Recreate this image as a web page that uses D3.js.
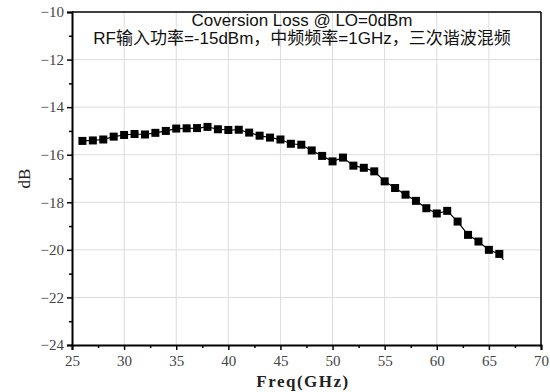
<!DOCTYPE html>
<html>
<head>
<meta charset="utf-8">
<script src="https://cdn.jsdelivr.net/npm/d3@7"></script>
<style>
  body { margin: 0; background: #fff; }
</style>
</head>
<body>
<div id="chart"></div>
<script>
// Data
const freqs = [26, 27, 28, 29, 30, 31, 32, 33, 34, 35, 36, 37, 38, 39, 40, 41, 42, 43, 44, 45,
  46, 47, 48, 49, 50, 51, 52, 53, 54, 55, 56, 57, 58, 59, 60, 61, 62, 63, 64, 65, 66];
const lossDb = [-15.42, -15.40, -15.36, -15.24, -15.17, -15.13, -15.15, -15.08, -15.00, -14.90,
  -14.89, -14.88, -14.83, -14.93, -14.96, -14.95, -15.07, -15.20, -15.28, -15.36,
  -15.54, -15.58, -15.82, -16.05, -16.28, -16.12, -16.46, -16.55, -16.70, -17.12,
  -17.40, -17.68, -17.94, -18.25, -18.47, -18.36, -18.81, -19.37, -19.65, -20.00, -20.17];
// thin trace continues a little past the last marker
const tailFreqs = [66, 66.4];
const tailDb = [-20.17, -20.42];

const xTicks = [25, 30, 35, 40, 45, 50, 55, 60, 65, 70];
const yTicks = [-10, -12, -14, -16, -18, -20, -22, -24];
const titleLines = ["Coversion Loss @ LO=0dBm", "RF输入功率=-15dBm，中频频率=1GHz，三次谐波混频"];

const width = 550, height = 392;
const margin = { top: 12, right: 9, bottom: 47, left: 72 };

const svg = d3.select("#chart").append("svg")
  .attr("width", width)
  .attr("height", height)
  .style("font-family", "'Liberation Serif', serif");

const x = d3.scaleLinear().domain([25, 70]).range([margin.left, width - margin.right]);
const y = d3.scaleLinear().domain([-24, -10]).range([height - margin.bottom, margin.top]);

// grid
svg.append("g")
  .selectAll("line.vg")
  .data(xTicks.slice(1, -1))
  .enter().append("line")
  .attr("x1", d => x(d)).attr("x2", d => x(d))
  .attr("y1", y(-10)).attr("y2", y(-24))
  .attr("stroke", "#dcdcdc").attr("stroke-width", 1);
svg.append("g")
  .selectAll("line.hg")
  .data(yTicks.slice(1, -1))
  .enter().append("line")
  .attr("x1", x(25)).attr("x2", x(70))
  .attr("y1", d => y(d)).attr("y2", d => y(d))
  .attr("stroke", "#dcdcdc").attr("stroke-width", 1);

// axes
const xAxis = svg.append("g")
  .attr("transform", "translate(0," + y(-24) + ")")
  .call(d3.axisBottom(x).tickValues(xTicks).tickSize(5).tickPadding(5).tickFormat(d3.format("d")));
const yAxis = svg.append("g")
  .attr("transform", "translate(" + x(25) + ",0)")
  .call(d3.axisLeft(y).tickValues(yTicks).tickSize(5).tickPadding(3).tickFormat(d => "\u2212" + Math.abs(d)));

// minor ticks
svg.append("g").attr("transform", "translate(0," + y(-24) + ")")
  .call(d3.axisBottom(x).tickValues(d3.range(27.5, 70, 5)).tickSize(3).tickFormat(""))
  .select(".domain").remove();
svg.append("g").attr("transform", "translate(" + x(25) + ",0)")
  .call(d3.axisLeft(y).tickValues(d3.range(-23, -10, 2)).tickSize(3).tickFormat(""))
  .select(".domain").remove();

svg.selectAll(".tick line").attr("stroke", "#000").attr("stroke-width", 1.5);
[xAxis, yAxis].forEach(a => {
  a.select(".domain").attr("stroke", "#000").attr("stroke-width", 2);
  a.selectAll("text").attr("fill", "#444").style("font-size", "15px").style("font-family", "'Liberation Serif', serif");
});

// top and right border
svg.append("line")
  .attr("x1", x(25)).attr("x2", x(70)).attr("y1", y(-10)).attr("y2", y(-10))
  .attr("stroke", "#000").attr("stroke-width", 1.5);
svg.append("line")
  .attr("x1", x(70)).attr("x2", x(70)).attr("y1", y(-10)).attr("y2", y(-24))
  .attr("stroke", "#000").attr("stroke-width", 1.5);

// trace
const pts = freqs.map((f, i) => [f, lossDb[i]]);
const tail = tailFreqs.map((f, i) => [f, tailDb[i]]);
const line = d3.line().x(d => x(d[0])).y(d => y(d[1]));
svg.append("path").datum(pts.concat(tail.slice(1)))
  .attr("d", line).attr("fill", "none").attr("stroke", "#000").attr("stroke-width", 1.2);

// square markers
const ms = 8;
svg.append("g").selectAll("rect")
  .data(pts)
  .enter().append("rect")
  .attr("x", d => x(d[0]) - ms / 2)
  .attr("y", d => y(d[1]) - ms / 2)
  .attr("width", ms).attr("height", ms)
  .attr("fill", "#000");

// title
svg.append("g").selectAll("text")
  .data(titleLines)
  .enter().append("text")
  .attr("x", 302)
  .attr("y", (d, i) => 26 + i * 18)
  .attr("text-anchor", "middle")
  .style("font-family", "'Liberation Sans', 'Noto Sans CJK SC', sans-serif")
  .style("font-size", "17px")
  .attr("fill", "#111")
  .text(d => d);

// axis labels
svg.append("text")
  .attr("x", 303).attr("y", 387)
  .attr("text-anchor", "middle")
  .style("font-size", "17px").style("font-weight", "bold")
  .style("letter-spacing", "1.5px")
  .attr("fill", "#222")
  .text("Freq(GHz)");
svg.append("text")
  .attr("transform", "translate(30," + y(-17) + ") rotate(-90)")
  .attr("text-anchor", "middle")
  .style("font-size", "17px")
  .attr("fill", "#222")
  .text("dB");
</script>
</body>
</html>
